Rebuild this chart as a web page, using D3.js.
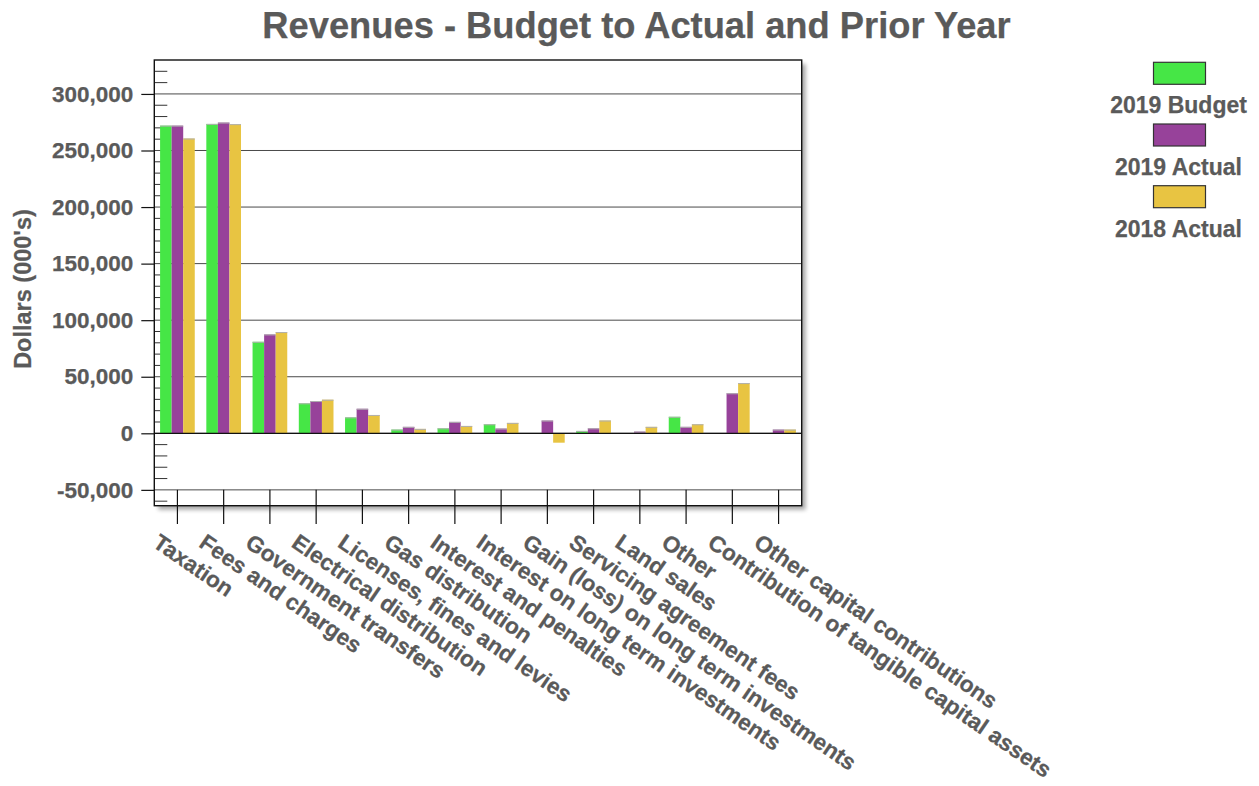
<!DOCTYPE html>
<html>
<head>
<meta charset="utf-8">
<script src="https://cdn.jsdelivr.net/npm/d3@7"></script>
<style>
  html, body { margin: 0; padding: 0; background: #fff; }
  svg { display: block; }
  text { font-family: "Liberation Sans", Arial, sans-serif; font-weight: bold; fill: #5a5a5a; stroke: #5a5a5a; stroke-width: 0.25px; }
</style>
</head>
<body>
<svg id="chart" width="1259" height="786"></svg>
<script>
const categories = [
  "Taxation", "Fees and charges", "Government transfers", "Electrical distribution",
  "Licenses, fines and levies", "Gas distribution", "Interest and penalties",
  "Interest on long term investments", "Gain (loss) on long term investments",
  "Servicing agreement fees", "Land sales", "Other",
  "Contribution of tangible capital assets", "Other capital contributions"
];
const seriesNames = ["2019 Budget", "2019 Actual", "2018 Actual"];
const budget2019 = [272000, 273500, 80900, 26500, 14100, 3300, 4400, 8000, 0, 2100, 0, 14600, 0, 0];
const actual2019 = [272000, 274700, 87400, 28500, 21700, 5700, 10100, 4200, 11300, 4400, 1500, 5700, 35400, 3300];
const actual2018 = [260600, 273300, 89500, 29700, 16200, 3900, 6500, 9200, -8300, 11300, 5700, 8000, 44400, 3300];
const yTickValues = [-50000, 0, 50000, 100000, 150000, 200000, 250000, 300000];
const titleText = "Revenues - Budget to Actual and Prior Year";
const yAxisTitle = "Dollars (000's)";
const colors = ["#46e646", "#97429a", "#e8c442"];

(function () {
const seriesValues = [budget2019, actual2019, actual2018];
const rows = categories.map((c, i) => ({ cat: c, vals: seriesValues.map(s => s[i]) }));

const svg = d3.select("#chart");
const pL = 154.3, pR = 801.7, pT = 60, pB = 505.7;

const defs = svg.append("defs");
const f = defs.append("filter").attr("id", "shadow").attr("x", "-5%").attr("y", "-5%").attr("width", "115%").attr("height", "115%");
f.append("feGaussianBlur").attr("in", "SourceAlpha").attr("stdDeviation", 2);
f.append("feOffset").attr("dx", 4).attr("dy", 4).attr("result", "ob");
f.append("feComponentTransfer").append("feFuncA").attr("type", "linear").attr("slope", 0.35);
const fm = f.append("feMerge");
fm.append("feMergeNode");
fm.append("feMergeNode").attr("in", "SourceGraphic");

const y = d3.scaleLinear().domain([-64000, 330000]).range([pB, pT]);
const x = d3.scaleBand().domain(categories).range([pL, pR]).paddingInner(0.25).paddingOuter(0.125);
const xs = d3.scaleBand().domain(seriesNames).range([0, x.bandwidth()]);

svg.append("rect").attr("x", pL).attr("y", pT).attr("width", pR - pL).attr("height", pB - pT)
  .attr("fill", "#fff").attr("filter", "url(#shadow)");

svg.append("g").selectAll("line").data(yTickValues).join("line")
  .attr("x1", pL).attr("x2", pR)
  .attr("y1", d => y(d)).attr("y2", d => y(d))
  .attr("stroke", "#4a4a4a").attr("stroke-width", 1);

const minor = d3.range(-60000, 330000, 10000).filter(v => v % 50000 !== 0);
svg.append("g").selectAll("line").data(minor).join("line")
  .attr("x1", pL).attr("x2", pL + 13)
  .attr("y1", d => y(d)).attr("y2", d => y(d))
  .attr("stroke", "#333").attr("stroke-width", 1);

const groups = svg.append("g").selectAll("g").data(rows).join("g")
  .attr("transform", d => `translate(${x(d.cat)},0)`);
const items = d => d.vals.map((v, i) => ({ v, s: seriesNames[i], i }));
groups.selectAll("rect").data(items).join("rect")
  .attr("x", d => xs(d.s))
  .attr("width", xs.bandwidth())
  .attr("y", d => y(Math.max(0, d.v)))
  .attr("height", d => Math.abs(y(d.v) - y(0)))
  .attr("fill", d => colors[d.i]);
groups.selectAll("line.tp").data(d => items(d).filter(e => e.v > 0)).join("line").attr("class", "tp")
  .attr("x1", d => xs(d.s)).attr("x2", d => xs(d.s) + xs.bandwidth())
  .attr("y1", d => y(d.v) + 0.5).attr("y2", d => y(d.v) + 0.5)
  .attr("stroke", "#b0b0b0").attr("stroke-width", 1);

svg.append("line").attr("x1", pL).attr("x2", pR).attr("y1", y(0)).attr("y2", y(0))
  .attr("stroke", "#111").attr("stroke-width", 1.3);

svg.append("rect").attr("x", pL).attr("y", pT).attr("width", pR - pL).attr("height", pB - pT)
  .attr("fill", "none").attr("stroke", "#111").attr("stroke-width", 1.4);

const fmt = d3.format(",");
const yAxis = d3.axisLeft(y).tickValues(yTickValues).tickSize(13).tickPadding(8)
  .tickFormat(d => fmt(d).replace("\u2212", "-"));
const ya = svg.append("g").attr("transform", `translate(${pL},0)`).call(yAxis);
ya.select(".domain").remove();
ya.selectAll(".tick line").attr("stroke", "#111").attr("stroke-width", 1.2);
ya.selectAll(".tick text").attr("font-size", 22.5).attr("font-family", "Liberation Sans, Arial, sans-serif")
  .attr("font-weight", "bold").attr("fill", "#5a5a5a");

svg.append("g").selectAll("line").data(categories).join("line")
  .attr("x1", d => x(d) + x.bandwidth() / 2).attr("x2", d => x(d) + x.bandwidth() / 2)
  .attr("y1", y(-50000)).attr("y2", 524)
  .attr("stroke", "#111").attr("stroke-width", 1.2);

svg.append("g").selectAll("text").data(categories).join("text")
  .attr("transform", d => `translate(${x(d) + x.bandwidth() / 2 - 26},546) rotate(34.5)`)
  .attr("font-size", 22.6).attr("text-anchor", "start")
  .text(d => d);

svg.append("text").attr("x", 636.5).attr("y", 38).attr("text-anchor", "middle")
  .attr("font-size", 36.3).text(titleText);

svg.append("text").attr("transform", "translate(31,289) rotate(-90)").attr("text-anchor", "middle")
  .attr("font-size", 23.5).text(yAxisTitle);

const legend = svg.append("g").selectAll("g").data(seriesNames).join("g")
  .attr("transform", (d, i) => `translate(1179.5,${62.3 + i * 61.7})`);
legend.append("rect").attr("x", -26).attr("y", 0).attr("width", 52).attr("height", 22)
  .attr("fill", (d, i) => colors[i]).attr("stroke", "#333").attr("stroke-width", 1.2);
legend.append("text").attr("x", -1).attr("y", 51).attr("text-anchor", "middle")
  .attr("font-size", 23).text(d => d);
})();
</script>
</body>
</html>
